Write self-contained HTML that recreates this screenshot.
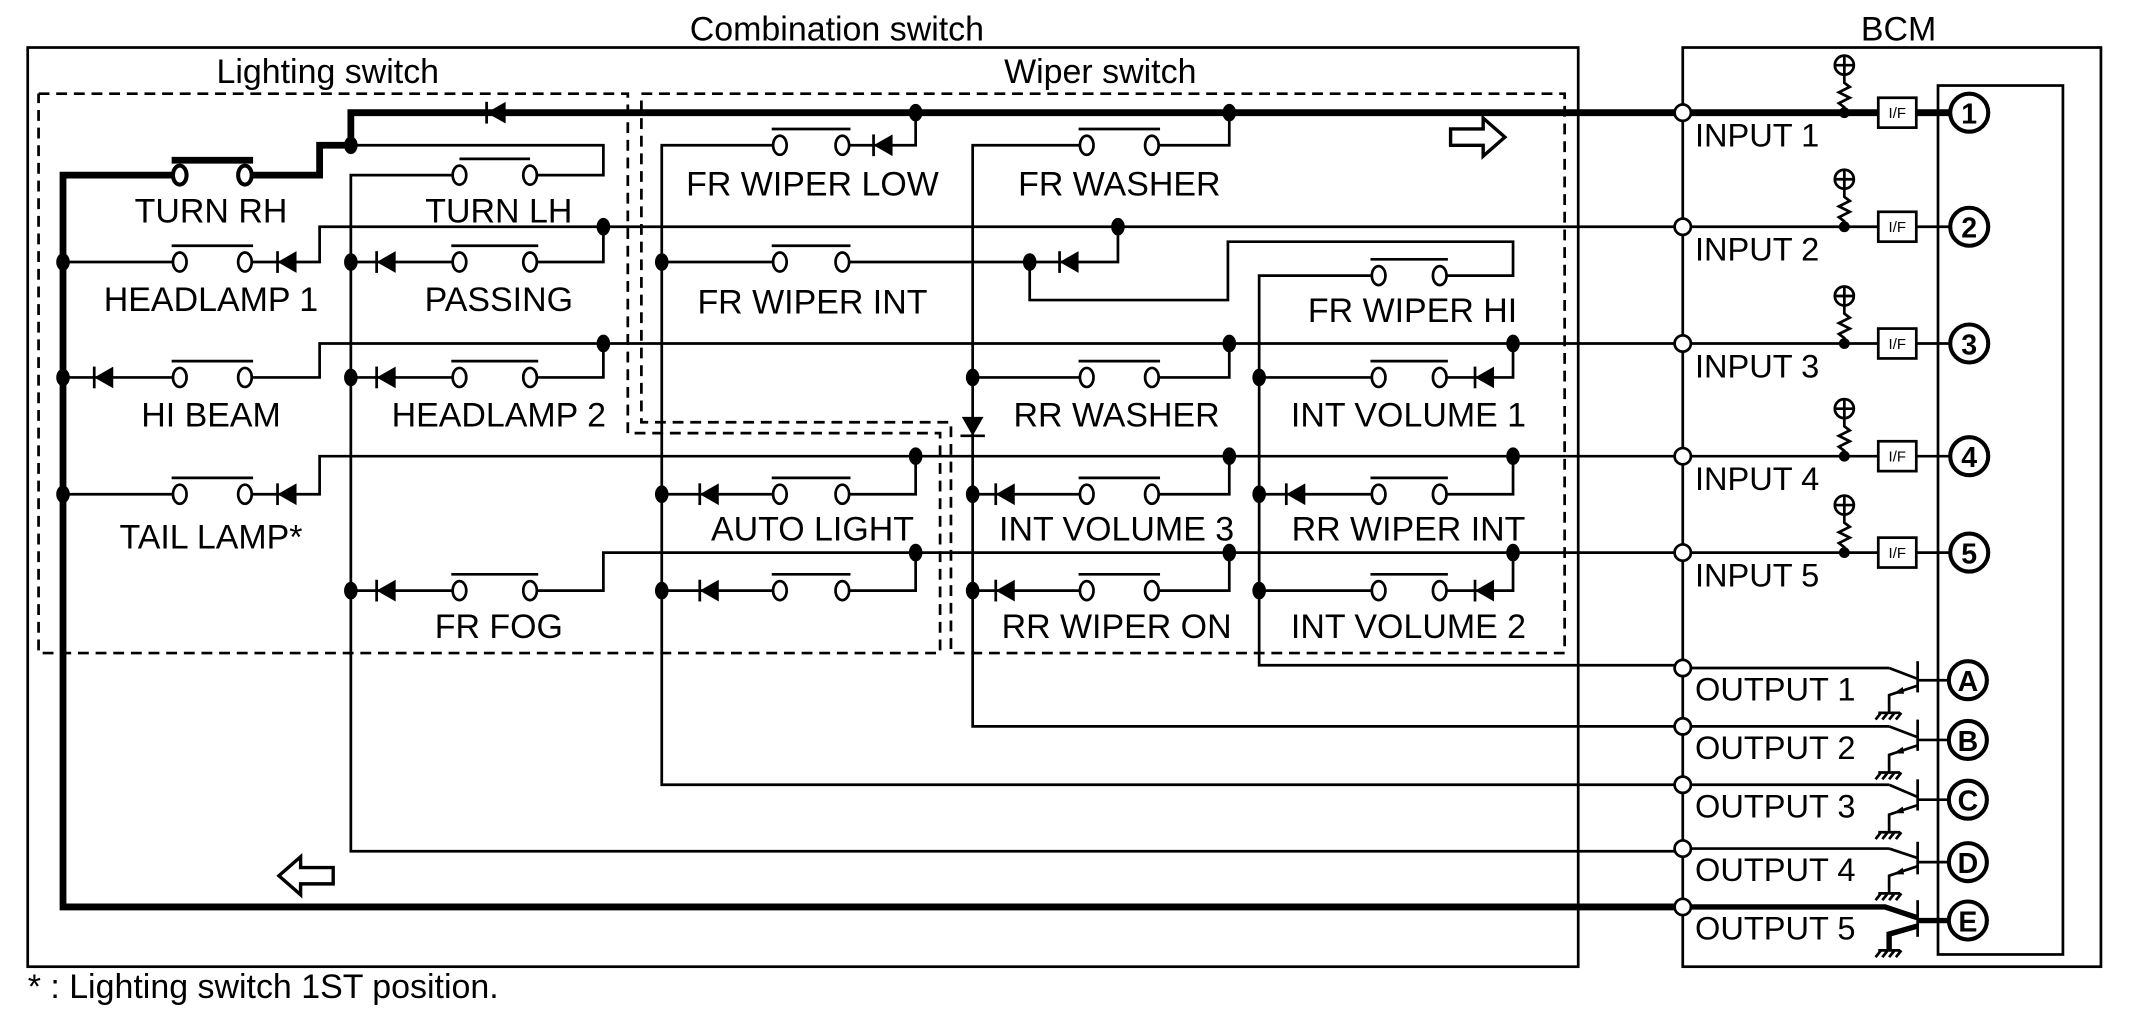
<!DOCTYPE html>
<html><head><meta charset="utf-8"><style>
html,body{margin:0;padding:0;background:#fff}
svg{display:block}
text{font-family:"Liberation Sans",Arial,sans-serif;fill:#000}
</style></head><body>
<svg width="2130" height="1021" viewBox="0 0 1568 752" xmlns="http://www.w3.org/2000/svg">
<defs>
<g id="dl"><polygon points="-7,0 7,-8 7,8" fill="#000"/><line x1="-7" y1="-8" x2="-7" y2="8" stroke="#000" stroke-width="2"/></g>
<g id="jd"><ellipse cx="0" cy="0" rx="5" ry="6.5" fill="#000"/></g>
</defs>
<g fill="none" stroke="#000" stroke-width="2">
<rect x="20" y="35" width="1142" height="677"/>
<rect x="1239" y="35" width="308" height="677"/>
<rect x="1427" y="63" width="92" height="640"/>
<g stroke-dasharray="8,5">
<polyline points="28,69 462,69 462,319 692,319 692,481 28,481 28,69"/>
<polyline points="472,69 1152,69 1152,481 700,481 700,311 472,311 472,69"/>
</g>
</g>
<text x="616" y="30" font-size="25" text-anchor="middle">Combination switch</text>
<text x="1398" y="30" font-size="25" text-anchor="middle">BCM</text>
<text x="241" y="61" font-size="25" text-anchor="middle">Lighting switch</text>
<text x="810" y="61" font-size="25" text-anchor="middle">Wiper switch</text>
<text x="20" y="735" font-size="25">* : Lighting switch 1ST position.</text>

<g fill="none" stroke="#000" stroke-width="5">
<polyline points="1239,83 258,83 258,107 235,107 235,129 185,129"/>
<polyline points="127,129 46,129 46,668 1239,668"/>
<line x1="126" y1="118" x2="186" y2="118"/>
</g>
<g fill="none" stroke="#000" stroke-width="2">
<polyline points="258,107 444,107 444,129 395,129"/>
<polyline points="333,129 258,129 258,627 1239,627"/>
<polyline points="1239,167 235,167 235,193 185,193"/>
<polyline points="127,193 46,193"/>
<polyline points="444,167 444,193 395,193"/>
<polyline points="333,193 258,193"/>
<polyline points="487,193 569,193"/>
<polyline points="625,193 823,193 823,167"/>
<polyline points="758,193 758,221 904,221 904,178 1114,178 1114,203 1065,203"/>
<polyline points="1010,203 927,203 927,490 1239,490"/>
<polyline points="674,83 674,107 625,107"/>
<polyline points="569,107 487,107 487,578 1239,578"/>
<polyline points="905,83 905,107 853,107"/>
<polyline points="795,107 716,107 716,535 1239,535"/>
<polyline points="1239,253 235,253 235,278 185,278"/>
<polyline points="127,278 46,278"/>
<polyline points="444,253 444,278 395,278"/>
<polyline points="333,278 258,278"/>
<polyline points="905,253 905,278 853,278"/>
<polyline points="795,278 716,278"/>
<polyline points="1114,253 1114,278 1065,278"/>
<polyline points="1010,278 927,278"/>
<polyline points="1239,336 235,336 235,364 185,364"/>
<polyline points="127,364 46,364"/>
<polyline points="674,336 674,364 625,364"/>
<polyline points="569,364 487,364"/>
<polyline points="905,336 905,364 853,364"/>
<polyline points="795,364 716,364"/>
<polyline points="1114,336 1114,364 1065,364"/>
<polyline points="1010,364 927,364"/>
<polyline points="1239,407 444,407 444,435 395,435"/>
<polyline points="333,435 258,435"/>
<polyline points="674,407 674,435 625,435"/>
<polyline points="569,435 487,435"/>
<polyline points="905,407 905,435 853,435"/>
<polyline points="795,435 716,435"/>
<polyline points="1114,407 1114,435 1065,435"/>
<polyline points="1010,435 927,435"/>
</g>

<g fill="#fff" stroke="#000" stroke-width="2">
<ellipse cx="338" cy="129" rx="5" ry="7"/><ellipse cx="390" cy="129" rx="5" ry="7"/><line x1="338" y1="117" x2="390" y2="117"/>
<ellipse cx="132" cy="193" rx="5" ry="7"/><ellipse cx="180" cy="193" rx="5" ry="7"/><line x1="126" y1="181" x2="186" y2="181"/>
<ellipse cx="338" cy="193" rx="5" ry="7"/><ellipse cx="390" cy="193" rx="5" ry="7"/><line x1="332" y1="181" x2="396" y2="181"/>
<ellipse cx="132" cy="278" rx="5" ry="7"/><ellipse cx="180" cy="278" rx="5" ry="7"/><line x1="126" y1="266" x2="186" y2="266"/>
<ellipse cx="338" cy="278" rx="5" ry="7"/><ellipse cx="390" cy="278" rx="5" ry="7"/><line x1="332" y1="266" x2="396" y2="266"/>
<ellipse cx="132" cy="364" rx="5" ry="7"/><ellipse cx="180" cy="364" rx="5" ry="7"/><line x1="126" y1="352" x2="186" y2="352"/>
<ellipse cx="338" cy="435" rx="5" ry="7"/><ellipse cx="390" cy="435" rx="5" ry="7"/><line x1="332" y1="423" x2="396" y2="423"/>
<ellipse cx="574" cy="107" rx="5" ry="7"/><ellipse cx="620" cy="107" rx="5" ry="7"/><line x1="568" y1="95" x2="626" y2="95"/>
<ellipse cx="800" cy="107" rx="5" ry="7"/><ellipse cx="848" cy="107" rx="5" ry="7"/><line x1="794" y1="95" x2="854" y2="95"/>
<ellipse cx="574" cy="193" rx="5" ry="7"/><ellipse cx="620" cy="193" rx="5" ry="7"/><line x1="568" y1="181" x2="626" y2="181"/>
<ellipse cx="1015" cy="203" rx="5" ry="7"/><ellipse cx="1060" cy="203" rx="5" ry="7"/><line x1="1009" y1="191" x2="1066" y2="191"/>
<ellipse cx="800" cy="278" rx="5" ry="7"/><ellipse cx="848" cy="278" rx="5" ry="7"/><line x1="794" y1="266" x2="854" y2="266"/>
<ellipse cx="1015" cy="278" rx="5" ry="7"/><ellipse cx="1060" cy="278" rx="5" ry="7"/><line x1="1009" y1="266" x2="1066" y2="266"/>
<ellipse cx="574" cy="364" rx="5" ry="7"/><ellipse cx="620" cy="364" rx="5" ry="7"/><line x1="568" y1="352" x2="626" y2="352"/>
<ellipse cx="800" cy="364" rx="5" ry="7"/><ellipse cx="848" cy="364" rx="5" ry="7"/><line x1="794" y1="352" x2="854" y2="352"/>
<ellipse cx="1015" cy="364" rx="5" ry="7"/><ellipse cx="1060" cy="364" rx="5" ry="7"/><line x1="1009" y1="352" x2="1066" y2="352"/>
<ellipse cx="574" cy="435" rx="5" ry="7"/><ellipse cx="620" cy="435" rx="5" ry="7"/><line x1="568" y1="423" x2="626" y2="423"/>
<ellipse cx="800" cy="435" rx="5" ry="7"/><ellipse cx="848" cy="435" rx="5" ry="7"/><line x1="794" y1="423" x2="854" y2="423"/>
<ellipse cx="1015" cy="435" rx="5" ry="7"/><ellipse cx="1060" cy="435" rx="5" ry="7"/><line x1="1009" y1="423" x2="1066" y2="423"/>
</g>
<g fill="#fff" stroke="#000" stroke-width="3">
<ellipse cx="132" cy="129" rx="5" ry="7"/><ellipse cx="180" cy="129" rx="5" ry="7"/>
</g>

<use href="#dl" x="365" y="83"/>
<use href="#dl" x="211" y="193"/>
<use href="#dl" x="284" y="193"/>
<use href="#dl" x="650" y="107"/>
<use href="#dl" x="787" y="193"/>
<use href="#dl" x="76" y="278"/>
<use href="#dl" x="284" y="278"/>
<use href="#dl" x="1093" y="278"/>
<use href="#dl" x="211" y="364"/>
<use href="#dl" x="522" y="364"/>
<use href="#dl" x="740" y="364"/>
<use href="#dl" x="954" y="364"/>
<use href="#dl" x="284" y="435"/>
<use href="#dl" x="522" y="435"/>
<use href="#dl" x="740" y="435"/>
<use href="#dl" x="1093" y="435"/>
<g transform="translate(716,314) rotate(-90)"><polygon points="-7,0 7,-8 7,8" fill="#000"/><line x1="-7" y1="-9" x2="-7" y2="9" stroke="#000" stroke-width="2"/></g>

<use href="#jd" x="258" y="107"/><use href="#jd" x="674" y="83"/><use href="#jd" x="905" y="83"/>
<use href="#jd" x="444" y="167"/><use href="#jd" x="823" y="167"/>
<use href="#jd" x="444" y="253"/><use href="#jd" x="905" y="253"/><use href="#jd" x="1114" y="253"/>
<use href="#jd" x="674" y="336"/><use href="#jd" x="905" y="336"/><use href="#jd" x="1114" y="336"/>
<use href="#jd" x="674" y="407"/><use href="#jd" x="905" y="407"/><use href="#jd" x="1114" y="407"/>
<use href="#jd" x="46" y="193"/><use href="#jd" x="46" y="278"/><use href="#jd" x="46" y="364"/>
<use href="#jd" x="258" y="193"/><use href="#jd" x="258" y="278"/><use href="#jd" x="258" y="435"/>
<use href="#jd" x="487" y="193"/><use href="#jd" x="487" y="364"/><use href="#jd" x="487" y="435"/>
<use href="#jd" x="758" y="193"/><use href="#jd" x="716" y="278"/><use href="#jd" x="716" y="364"/><use href="#jd" x="716" y="435"/>
<use href="#jd" x="927" y="278"/><use href="#jd" x="927" y="364"/><use href="#jd" x="927" y="435"/>

<polygon points="1068,95 1092,95 1092,87 1108,101 1092,115 1092,107 1068,107" fill="#fff" stroke="#000" stroke-width="2.5"/>
<polygon points="245,639 221,639 221,631 205,645 221,659 221,651 245,651" fill="#fff" stroke="#000" stroke-width="2.5"/>

<g font-size="25" text-anchor="middle">
<text x="155" y="164">TURN RH</text>
<text x="367" y="164">TURN LH</text>
<text x="155" y="229">HEADLAMP 1</text>
<text x="367" y="229">PASSING</text>
<text x="155" y="314">HI BEAM</text>
<text x="367" y="314">HEADLAMP 2</text>
<text x="155" y="404">TAIL LAMP*</text>
<text x="367" y="470">FR FOG</text>
<text x="598" y="144">FR WIPER LOW</text>
<text x="824" y="144">FR WASHER</text>
<text x="598" y="231">FR WIPER INT</text>
<text x="1040" y="237">FR WIPER HI</text>
<text x="822" y="314">RR WASHER</text>
<text x="1037" y="314">INT VOLUME 1</text>
<text x="598" y="398">AUTO LIGHT</text>
<text x="822" y="398">INT VOLUME 3</text>
<text x="1037" y="398">RR WIPER INT</text>
<text x="822" y="470">RR WIPER ON</text>
<text x="1037" y="470">INT VOLUME 2</text>
</g>

<g stroke="#000" fill="none" stroke-width="2">
<line x1="1239" y1="83" x2="1383" y2="83" stroke-width="5"/>
<line x1="1411" y1="83" x2="1436" y2="83" stroke-width="5"/>
<line x1="1239" y1="167" x2="1383" y2="167"/><line x1="1411" y1="167" x2="1436" y2="167"/>
<line x1="1239" y1="253" x2="1383" y2="253"/><line x1="1411" y1="253" x2="1436" y2="253"/>
<line x1="1239" y1="336" x2="1383" y2="336"/><line x1="1411" y1="336" x2="1436" y2="336"/>
<line x1="1239" y1="407" x2="1383" y2="407"/><line x1="1411" y1="407" x2="1436" y2="407"/>
<polyline points="1358,83 1358,79 1354,76 1362,72 1354,68 1362,64 1358,61 1358,55"/>
<polyline points="1358,167 1358,163 1354,160 1362,156 1354,152 1362,148 1358,145 1358,139"/>
<polyline points="1358,253 1358,249 1354,246 1362,242 1354,238 1362,234 1358,231 1358,225"/>
<polyline points="1358,336 1358,332 1354,329 1362,325 1354,321 1362,317 1358,314 1358,308"/>
<polyline points="1358,407 1358,403 1354,400 1362,396 1354,392 1362,388 1358,385 1358,379"/>
<circle cx="1358" cy="48" r="7"/><path d="M1351,48h14M1358,41v14"/>
<circle cx="1358" cy="132" r="7"/><path d="M1351,132h14M1358,125v14"/>
<circle cx="1358" cy="218" r="7"/><path d="M1351,218h14M1358,211v14"/>
<circle cx="1358" cy="301" r="7"/><path d="M1351,301h14M1358,294v14"/>
<circle cx="1358" cy="372" r="7"/><path d="M1351,372h14M1358,365v14"/>
<rect x="1383" y="72" width="28" height="22"/>
<rect x="1383" y="156" width="28" height="22"/>
<rect x="1383" y="242" width="28" height="22"/>
<rect x="1383" y="325" width="28" height="22"/>
<rect x="1383" y="396" width="28" height="22"/>
</g>
<g fill="#000">
<circle cx="1358" cy="83" r="4"/><circle cx="1358" cy="167" r="4"/><circle cx="1358" cy="253" r="4"/><circle cx="1358" cy="336" r="4"/><circle cx="1358" cy="407" r="4"/>
</g>
<g font-size="11" text-anchor="middle">
<text x="1397" y="87">I/F</text><text x="1397" y="171">I/F</text><text x="1397" y="257">I/F</text><text x="1397" y="340">I/F</text><text x="1397" y="411">I/F</text>
</g>
<g fill="#fff" stroke="#000" stroke-width="3">
<circle cx="1450" cy="83" r="14"/><circle cx="1450" cy="167" r="14"/><circle cx="1450" cy="253" r="14"/><circle cx="1450" cy="336" r="14"/><circle cx="1450" cy="407" r="14"/>
<circle cx="1449" cy="501" r="14"/><circle cx="1449" cy="545" r="14"/><circle cx="1449" cy="589" r="14"/><circle cx="1449" cy="635" r="14"/><circle cx="1449" cy="678" r="14"/>
</g>
<g font-size="21" font-weight="bold" text-anchor="middle">
<text x="1450" y="91">1</text><text x="1450" y="175">2</text><text x="1450" y="261">3</text><text x="1450" y="344">4</text><text x="1450" y="415">5</text>
<text x="1449" y="509">A</text><text x="1449" y="553">B</text><text x="1449" y="597">C</text><text x="1449" y="643">D</text><text x="1449" y="686">E</text>
</g>

<g fill="none" stroke="#000" stroke-width="2">
<polyline points="1391,492 1412,500"/><line x1="1412" y1="487" x2="1412" y2="510"/><line x1="1412" y1="501" x2="1435" y2="501"/>
<polyline points="1412,505 1391,512 1391,525"/><path d="M1383,525h16M1385,525l-4,5M1390,525l-4,5M1395,525l-4,5M1400,525l-4,5"/>
<polyline points="1391,535 1412,543"/><line x1="1412" y1="530" x2="1412" y2="553"/><line x1="1412" y1="545" x2="1435" y2="545"/>
<polyline points="1412,549 1391,556 1391,569"/><path d="M1383,569h16M1385,569l-4,5M1390,569l-4,5M1395,569l-4,5M1400,569l-4,5"/>
<polyline points="1391,578 1412,587"/><line x1="1412" y1="574" x2="1412" y2="597"/><line x1="1412" y1="589" x2="1435" y2="589"/>
<polyline points="1412,593 1391,600 1391,613"/><path d="M1383,613h16M1385,613l-4,5M1390,613l-4,5M1395,613l-4,5M1400,613l-4,5"/>
<polyline points="1391,625 1412,632"/><line x1="1412" y1="620" x2="1412" y2="644"/><line x1="1412" y1="635" x2="1435" y2="635"/>
<polyline points="1412,638 1391,645 1391,658"/><path d="M1383,658h16M1385,658l-4,5M1390,658l-4,5M1395,658l-4,5M1400,658l-4,5"/>
<line x1="1239" y1="492" x2="1391" y2="492"/>
<line x1="1239" y1="535" x2="1391" y2="535"/>
<line x1="1239" y1="578" x2="1391" y2="578"/>
<line x1="1239" y1="625" x2="1391" y2="625"/>
<line x1="1412" y1="663" x2="1412" y2="690"/>
<path d="M1383,700h16M1385,700l-4,5M1390,700l-4,5M1395,700l-4,5M1400,700l-4,5"/>
</g>
<g fill="none" stroke="#000" stroke-width="4">
<polyline points="1239,668 1388,668 1412,676"/>
<line x1="1412" y1="678" x2="1435" y2="678"/>
<polyline points="1412,682 1391,688 1391,700"/>
</g>
<g fill="#000">
<polygon points="1394,511 1401,506 1402,511"/>
<polygon points="1394,555 1401,550 1402,555"/>
<polygon points="1394,599 1401,594 1402,599"/>
<polygon points="1394,644 1401,639 1402,644"/>
</g>
<g fill="#fff" stroke="#000" stroke-width="2">
<circle cx="1239" cy="83" r="6"/><circle cx="1239" cy="167" r="6"/><circle cx="1239" cy="253" r="6"/><circle cx="1239" cy="336" r="6"/><circle cx="1239" cy="407" r="6"/>
<circle cx="1239" cy="492" r="6"/><circle cx="1239" cy="535" r="6"/><circle cx="1239" cy="578" r="6"/><circle cx="1239" cy="625" r="6"/><circle cx="1239" cy="668" r="6"/>
</g>
<g font-size="24">
<text x="1248" y="108">INPUT 1</text><text x="1248" y="192">INPUT 2</text><text x="1248" y="278">INPUT 3</text><text x="1248" y="361">INPUT 4</text><text x="1248" y="432">INPUT 5</text>
<text x="1248" y="516">OUTPUT 1</text><text x="1248" y="559">OUTPUT 2</text><text x="1248" y="602">OUTPUT 3</text><text x="1248" y="649">OUTPUT 4</text><text x="1248" y="692">OUTPUT 5</text>
</g>
</svg>
</body></html>
